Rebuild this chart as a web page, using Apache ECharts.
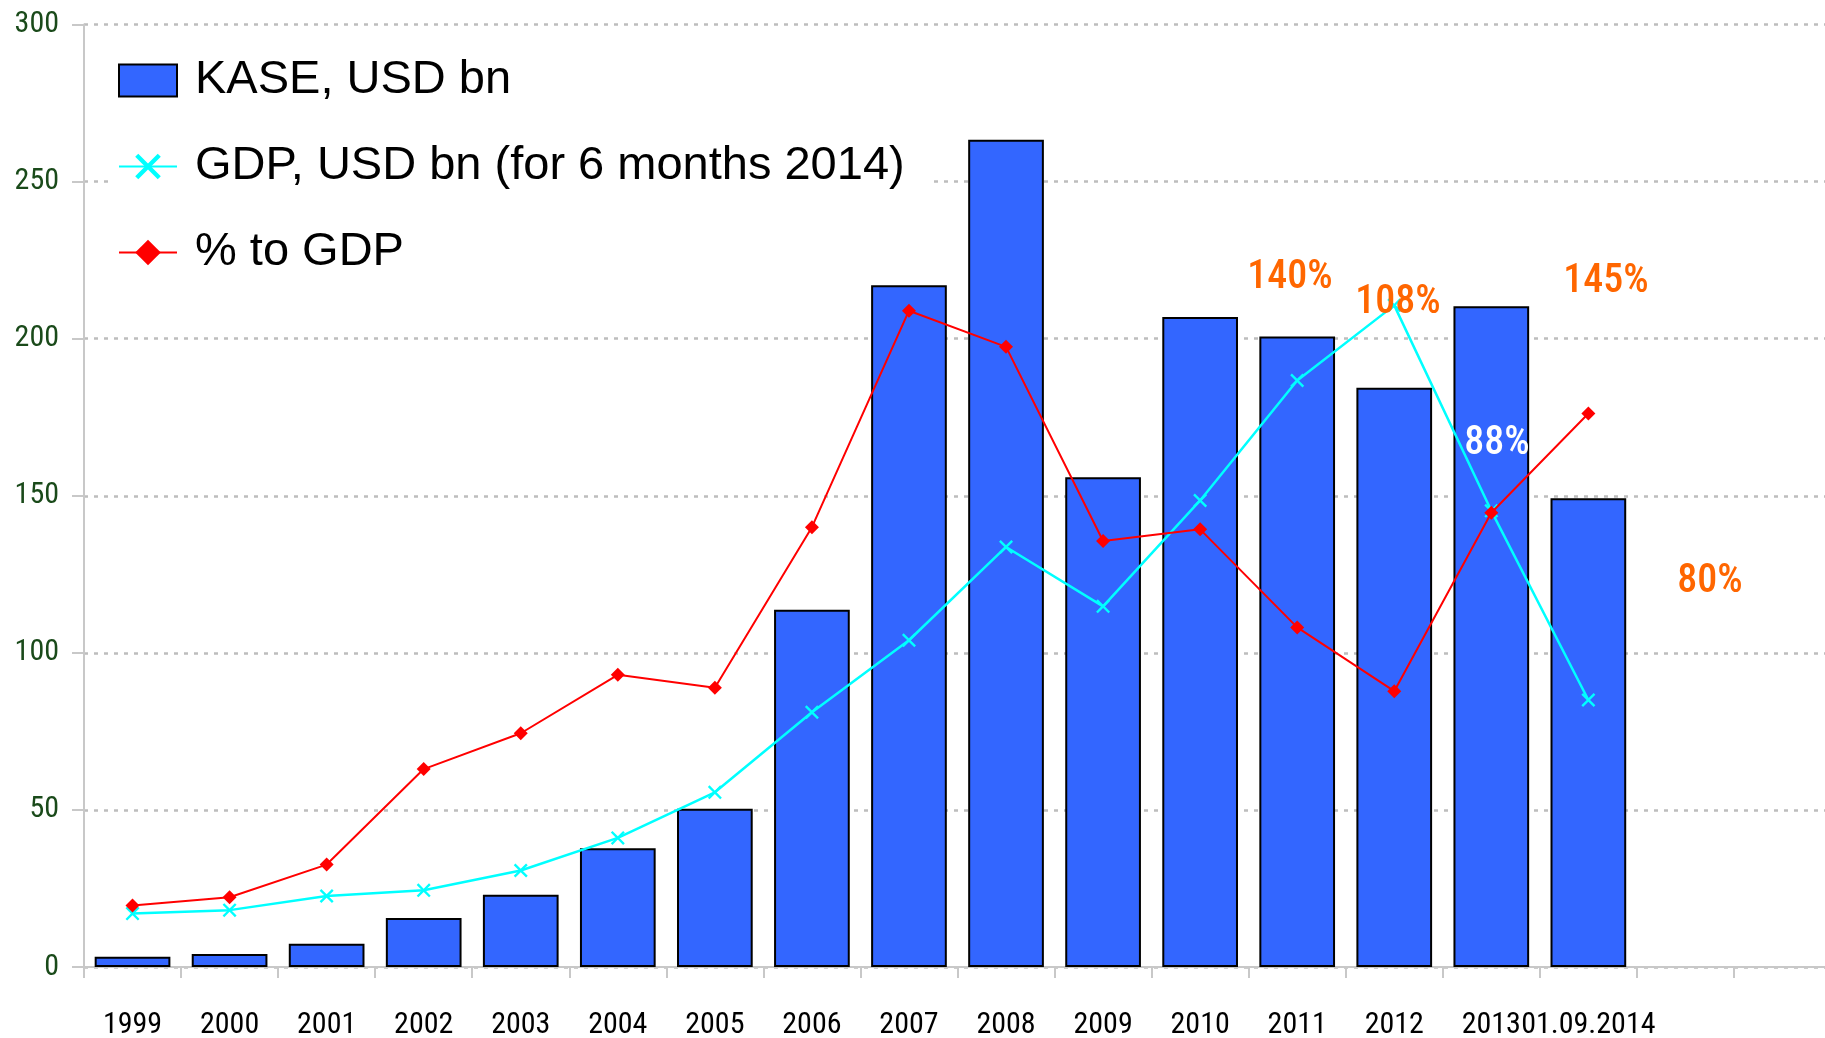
<!DOCTYPE html>
<html>
<head>
<meta charset="utf-8">
<title>KASE vs GDP</title>
<script src="https://cdn.jsdelivr.net/npm/echarts@6/dist/echarts.min.js"></script>
<style>
  html, body { margin: 0; padding: 0; background: #fff; }
  #main { width: 1825px; height: 1038px; }
</style>
</head>
<body>
<div id="main"></div>
<script>
// data
const categories = ['1999', '2000', '2001', '2002', '2003', '2004', '2005', '2006', '2007',
    '2008', '2009', '2010', '2011', '2012', '2013', '01.09.2014', '', ''];
const kaseValues = [3.3, 4.1, 7.4, 15.6, 23, 37.8, 50.4, 113.7, 217, 263.3, 155.9, 206.9, 200.7, 184.4, 210.3, 149.2, '-', '-'];
const gdpValues = [17, 18.1, 22.6, 24.4, 30.7, 41.1, 55.6, 81.1, 104, 133.7, 114.8, 148.5, 186.7, 210.6, 145.2, 85, '-', '-'];
const pctValues = [19.6, 22.2, 32.6, 63, 74.4, 93, 88.9, 140, 208.9, 197.4, 135.6, 139.3, 108.1, 87.8, 144.6, 176.2, '-', '-'];
const yTicks = { min: 0, max: 300, interval: 50 };
const noteTexts = ['140%', '108%', '145%', '88%', '80%'];

const NARROW = "'Roboto Condensed', 'Liberation Sans', sans-serif";
const WIDE = "'Liberation Sans', Arial, sans-serif";
const crossPath = 'path://M0,1.2L1.2,0L5,3.8L8.8,0L10,1.2L6.2,5L10,8.8L8.8,10L5,6.2L1.2,10L0,8.8L3.8,5Z';

window.addEventListener('DOMContentLoaded', function() {
    const myChart = echarts.init(document.getElementById('main'));

    // positions of the floating percent notes (pixels)
    const notePos = [
        [1290, 278, '#ff6600'],
        [1398, 303, '#ff6600'],
        [1606, 282, '#ff6600'],
        [1497, 444, '#ffffff'],
        [1710, 582, '#ff6600']
    ];

    const option = {
        animation: false,
        textStyle: { fontFamily: NARROW },
        grid: {
            left: 84,
            right: -6,
            top: 24.5,
            bottom: 71,
            containLabel: false,
            outerBoundsMode: 'none'
        },
        legend: {
            orient: 'vertical',
            left: 108,
            top: 57,
            padding: [0, 26, 0, 10],
            backgroundColor: '#ffffff',
            itemWidth: 58,
            itemHeight: 32,
            itemGap: 39,
            textStyle: {
                fontFamily: WIDE,
                fontSize: 47,
                color: '#000',
                padding: [0, 0, 0, 13]
            },
            data: [
                { name: 'KASE, USD bn', icon: 'rect' },
                'GDP, USD bn (for 6 months 2014)',
                '% to GDP'
            ]
        },
        xAxis: {
            type: 'category',
            data: categories,
            boundaryGap: true,
            axisLine: { lineStyle: { color: '#c8c8c8', width: 2 } },
            axisTick: { show: true, length: 11, lineStyle: { color: '#c8c8c8', width: 2 } },
            axisLabel: {
                interval: 0,
                hideOverlap: false,
                margin: 43,
                fontSize: 30,
                color: '#000',
                fontFamily: NARROW
            },
            splitLine: { show: false }
        },
        yAxis: {
            type: 'value',
            min: yTicks.min,
            max: yTicks.max,
            interval: yTicks.interval,
            axisLine: { show: true, lineStyle: { color: '#c8c8c8', width: 2 } },
            axisTick: { show: true, length: 12, lineStyle: { color: '#c8c8c8', width: 2 } },
            axisLabel: {
                margin: 25,
                fontSize: 30,
                color: '#1a4a1a',
                fontFamily: NARROW
            },
            splitLine: {
                show: true,
                lineStyle: { color: '#bdbdbd', width: 2.5, type: [4, 6] }
            }
        },
        series: [
            {
                name: 'KASE, USD bn',
                type: 'bar',
                data: kaseValues,
                barCategoryGap: '22%',
                itemStyle: {
                    color: '#3366ff',
                    borderColor: '#000',
                    borderWidth: 2
                },
                z: 2
            },
            {
                name: 'GDP, USD bn (for 6 months 2014)',
                type: 'line',
                data: gdpValues,
                symbol: crossPath,
                symbolSize: 14,
                showAllSymbol: true,
                lineStyle: { color: '#00ffff', width: 2.5 },
                itemStyle: { color: '#00ffff' },
                z: 3
            },
            {
                name: '% to GDP',
                type: 'line',
                data: pctValues,
                symbol: 'diamond',
                symbolSize: 14,
                showAllSymbol: true,
                lineStyle: { color: '#ff0000', width: 2 },
                itemStyle: { color: '#ff0000' },
                z: 4
            }
        ],
        graphic: noteTexts.map(function(t, i) {
            return {
                type: 'text',
                x: notePos[i][0],
                y: notePos[i][1],
                z: 10,
                style: {
                    text: t,
                    fill: notePos[i][2],
                    font: '500 40px ' + NARROW,
                    align: 'center',
                    verticalAlign: 'middle'
                }
            };
        })
    };

    myChart.setOption(option);
    window.addEventListener('resize', () => myChart.resize());
});
</script>
</body>
</html>
